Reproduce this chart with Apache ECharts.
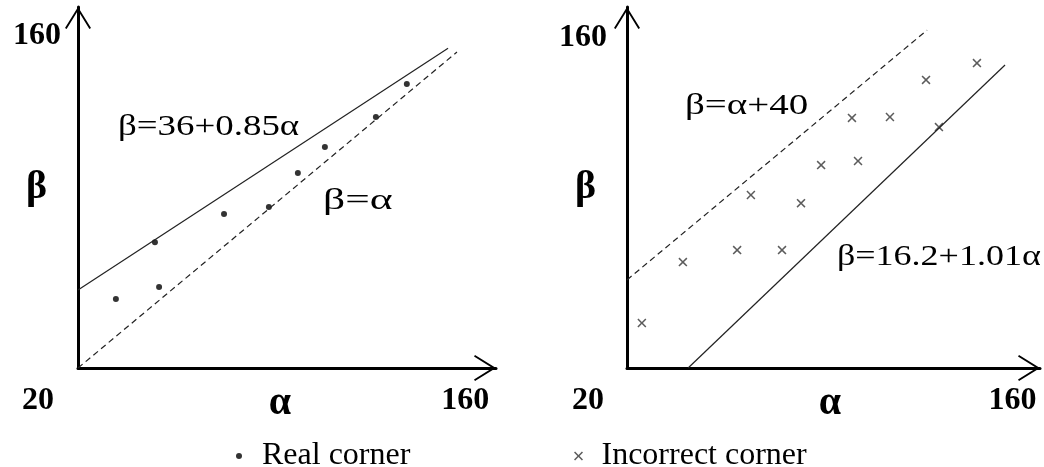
<!DOCTYPE html>
<html>
<head>
<meta charset="utf-8">
<script src="https://cdn.jsdelivr.net/npm/echarts@6/dist/echarts.min.js"></script>
<style>
  html, body { margin: 0; padding: 0; background: #fff; }
  #chart { width: 1044px; height: 467px; }
</style>
</head>
<body>
<div id="chart"></div>
<script>
// Corner candidates, (α, β) pairs
const realAlpha  = [33.6, 47.6, 49.1, 72.4, 88.5, 98.9, 108.6, 126.9, 138.0];
const realBeta   = [48.7, 72.3, 53.7, 84.0, 86.9, 101.0, 111.8, 124.3, 138.0];
const wrongAlpha = [25.4, 40.3, 60.0, 76.3, 65.0, 83.2, 90.5, 103.9, 101.7, 115.5, 128.6, 147.1, 133.3];
const wrongBeta  = [38.7, 64.0, 69.0, 69.0, 91.9, 88.5, 104.3, 106.0, 123.9, 124.3, 139.7, 146.7, 120.1];

// Boundary lines, endpoints in (α, β)
const realFitAlpha    = [20, 152.8];
const realFitBeta     = [52.4, 152.9];
const realDiagAlpha   = [20, 156.0];
const realDiagBeta    = [20, 151.3];
const wrongUpperAlpha = [20, 129.0];
const wrongUpperBeta  = [56.6, 160.4];
const wrongFitAlpha   = [42.2, 157.3];
const wrongFitBeta    = [20, 145.9];

// Axis range and the labelled ticks
const axisMin = 20;
const axisMax = 170;
const tickStep = 10;
const tickLabels = [20, 160];

const legendNames = ['Real corner', 'Incorrect corner'];
const lineLabels = ['β=36+0.85α', 'β=α', 'β=α+40', 'β=16.2+1.01α'];

const zip = (xs, ys) => xs.map((x, i) => [x, ys[i]]);

const SERIF = '"Liberation Serif", "Times New Roman", serif';
const ARROW = 'path://M13,0 L26,21 L24.4,22 L13,3.6 L1.6,22 L0,21 Z';
const CROSS = 'path://M0,1.2 L1.2,0 L5,3.8 L8.8,0 L10,1.2 L6.2,5 L10,8.8 L8.8,10 L5,6.2 L1.2,10 L0,8.8 L3.8,5 Z';

const axisLineStyle = {
  show: true,
  onZero: false,
  lineStyle: { color: '#000', width: 3 },
  symbol: ['none', ARROW],
  symbolSize: [26, 22],
  symbolOffset: [0, -11]
};

const labelFont = { fontFamily: SERIF, fontWeight: 'bold', fontSize: 32, color: '#000' };

function xAxis(gridIndex, loPad, hiPad, nameShift) {
  return {
    type: 'value', gridIndex, min: axisMin, max: axisMax, interval: tickStep,
    splitLine: { show: false }, axisTick: { show: false },
    axisLine: axisLineStyle,
    axisLabel: {
      margin: 17,
      formatter: v => v === tickLabels[0] ? '{lo|' + v + '}' : (v === tickLabels[1] ? '{hi|' + v + '}' : ''),
      rich: {
        lo: Object.assign({ padding: [0, loPad, 0, 0] }, labelFont),
        hi: Object.assign({ padding: [0, hiPad, 0, 0] }, labelFont)
      }
    },
    name: 'α', nameLocation: 'middle', nameGap: 16, nameMoveOverlap: false,
    nameTextStyle: { fontFamily: SERIF, fontWeight: 'bold', fontSize: 40, color: '#000', padding: [0, nameShift, 0, 0] }
  };
}

function yAxis(gridIndex, margin, topPad) {
  return {
    type: 'value', gridIndex, min: axisMin, max: axisMax, interval: tickStep,
    splitLine: { show: false }, axisTick: { show: false },
    axisLine: axisLineStyle,
    axisLabel: {
      margin,
      formatter: v => v === tickLabels[1] ? '{hi|' + v + '}' : '',
      rich: { hi: Object.assign({ padding: [topPad, 0, 0, 0] }, labelFont) }
    },
    name: 'β', nameLocation: 'middle', nameRotate: 0, nameGap: 31, nameMoveOverlap: false,
    nameTextStyle: { fontFamily: SERIF, fontWeight: 'bold', fontSize: 40, color: '#000' }
  };
}

function boundary(name, idx, xs, ys, dashed) {
  return {
    name, type: 'line', xAxisIndex: idx, yAxisIndex: idx,
    data: zip(xs, ys), showSymbol: false, silent: true,
    lineStyle: { color: '#222', width: 1.2, type: dashed ? [6, 4] : 'solid' }
  };
}

function eqText(text, x, y, sx) {
  return {
    type: 'text', x, y, scaleX: sx, silent: true,
    style: {
      text, font: '30px ' + SERIF, fill: '#000',
      textAlign: 'left', textVerticalAlign: 'middle', align: 'left', verticalAlign: 'middle'
    }
  };
}

const chart = echarts.init(document.getElementById('chart'), null, { renderer: 'canvas' });

chart.setOption({
  animation: false,
  backgroundColor: '#fff',
  grid: [
    { left: 78, top: 7, width: 418, height: 361, outerBoundsMode: 'none', containLabel: false },
    { left: 627, top: 7, width: 413, height: 361, outerBoundsMode: 'none', containLabel: false }
  ],
  xAxis: [xAxis(0, 80, 6, 14), xAxis(1, 78, 0, 7)],
  yAxis: [yAxis(0, 17, 10), yAxis(1, 20, 14)],
  legend: [
    {
      data: [legendNames[0]], left: 231, top: 435, itemWidth: 36, itemHeight: 6,
      selectedMode: false, textStyle: { fontFamily: SERIF, fontSize: 32, color: '#000' }
    },
    {
      data: [legendNames[1]], left: 569, top: 435, itemWidth: 36, itemHeight: 9,
      selectedMode: false, textStyle: { fontFamily: SERIF, fontSize: 32, color: '#000' }
    }
  ],
  series: [
    boundary('fit-real', 0, realFitAlpha, realFitBeta, false),
    boundary('diag-real', 0, realDiagAlpha, realDiagBeta, true),
    {
      name: legendNames[0], type: 'scatter', xAxisIndex: 0, yAxisIndex: 0,
      data: zip(realAlpha, realBeta), symbol: 'circle', symbolSize: 6,
      itemStyle: { color: '#000' }
    },
    boundary('upper-wrong', 1, wrongUpperAlpha, wrongUpperBeta, true),
    boundary('fit-wrong', 1, wrongFitAlpha, wrongFitBeta, false),
    {
      name: legendNames[1], type: 'scatter', xAxisIndex: 1, yAxisIndex: 1,
      data: zip(wrongAlpha, wrongBeta), symbol: CROSS, symbolSize: 9,
      itemStyle: { color: '#333' }
    }
  ],
  graphic: [
    eqText(lineLabels[0], 118, 127, 1.23),
    eqText(lineLabels[1], 323, 201, 1.45),
    eqText(lineLabels[2], 685, 106, 1.30),
    eqText(lineLabels[3], 837, 257, 1.2)
  ]
});
</script>
</body>
</html>
